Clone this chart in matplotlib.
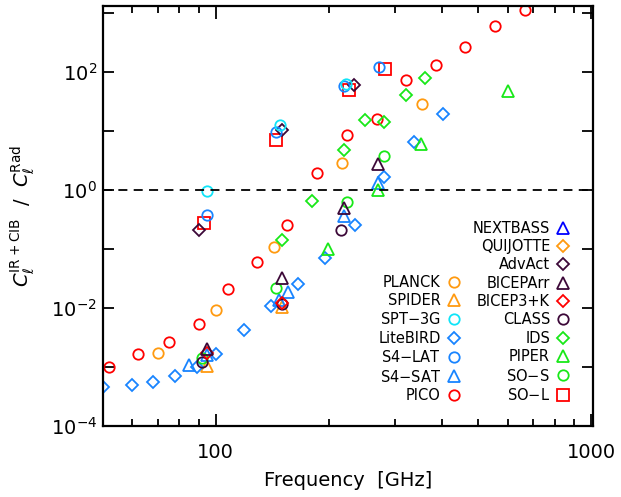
import numpy as np
import matplotlib.pyplot as plt
from matplotlib.ticker import FixedLocator, FixedFormatter, NullFormatter

plt.rcParams['font.family'] = ['DejaVu Sans']
plt.rcParams['mathtext.fontset'] = 'dejavusans'

# frequencies [GHz] and ratio C_l^(IR+CIB) / C_l^(Rad)
pico_f = [52, 62, 75, 90, 108, 129, 155, 186, 223, 268, 321, 385, 462, 555, 666]
pico_r = [1.0e-3, 1.65e-3, 2.6e-3, 5.3e-3, 0.021, 0.06, 0.25, 1.9, 8.5, 15.9, 73, 130, 262, 600, 1100]

planck_f = [70, 100, 143, 217, 353]
planck_r = [1.7e-3, 9.1e-3, 0.107, 2.8, 28]

spider_f = [95, 150]
spider_r = [1.05e-3, 0.0104]

spt_f = [95, 148, 222]
spt_r = [0.97, 12.7, 62]

litebird_f = [50, 60, 68, 78, 89, 100, 119, 140, 166, 195, 235, 280, 337, 402]
litebird_r = [4.5e-4, 4.9e-4, 5.6e-4, 7.1e-4, 9.8e-4, 1.65e-3, 4.2e-3, 0.0106,
              0.025, 0.071, 0.254, 1.65, 6.4, 19.3]

s4lat_f = [95, 145, 219, 272]
s4lat_r = [0.37, 9.4, 57, 120]

s4sat_f = [85, 95, 147, 156, 220, 270]
s4sat_r = [1.09e-3, 1.62e-3, 0.0138, 0.0187, 0.36, 1.33]

nextbass_f = []
nextbass_r = []

quijote_f = []
quijote_r = []

advact_f = [90, 150, 233]
advact_r = [0.206, 10.3, 60]

biceparr_f = [95, 150, 220, 270]
biceparr_r = [2.05e-3, 0.0323, 0.5, 2.74]

bicep3k_f = [95, 150]
bicep3k_r = [1.7e-3, 0.0121]

class_f = [92, 150, 216]
class_r = [1.2e-3, 0.0118, 0.206]

ids_f = [150, 180, 220, 249, 280, 320, 360]
ids_r = [0.143, 0.65, 4.66, 15.5, 13.9, 40, 79]

piper_f = [199, 270, 352, 600]
piper_r = [0.098, 1.0, 6.0, 47]

sos_f = [92, 145, 224, 281]
sos_r = [1.4e-3, 0.0218, 0.61, 3.79]

sol_f = [93, 145, 226, 282]
sol_r = [0.278, 7.0, 48.3, 110]

red = '#ff0000'
orange = '#ff9a10'
cyan = '#10e4f8'
blue = '#1884ff'
green = '#18e818'
purple = '#3c0838'

fig = plt.figure(figsize=(6.21, 4.97), dpi=100)
ax = fig.add_axes([0.1654, 0.1429, 0.7895, 0.8451])

mew = 1.3
def draw(f, r, marker, color, label, ms):
    return ax.plot(f, r, linestyle='none', marker=marker, ms=ms, mfc='none',
                   mec=color, mew=mew, label=label)[0]

# left legend column
h_planck = draw(planck_f, planck_r, 'o', orange, 'PLANCK', 7.5)
h_spider = draw(spider_f, spider_r, '^', orange, 'SPIDER', 8)
h_pico = draw(pico_f, pico_r, 'o', red, 'PICO', 7.5)
h_lite = draw(litebird_f, litebird_r, 'D', blue, 'LiteBIRD', 5.8)
h_s4s = draw(s4sat_f, s4sat_r, '^', blue, 'S4$-$SAT', 8)
# right legend column
h_next = draw(nextbass_f, nextbass_r, '^', '#0000ff', 'NEXTBASS', 8)
h_quij = draw(quijote_f, quijote_r, 'D', orange, 'QUIJOTTE', 5.8)
h_ids = draw(ids_f, ids_r, 'D', green, 'IDS', 5.8)
h_piper = draw(piper_f, piper_r, '^', green, 'PIPER', 8)
h_sos = draw(sos_f, sos_r, 'o', green, 'SO$-$S', 7.5)
h_class = draw(class_f, class_r, 'o', purple, 'CLASS', 7.5)
h_b3k = draw(bicep3k_f, bicep3k_r, 'D', red, 'BICEP3+K', 5.8)
h_barr = draw(biceparr_f, biceparr_r, '^', purple, 'BICEPArr', 8)
h_sol = draw(sol_f, sol_r, 's', red, 'SO$-$L', 8.3)
h_adv = draw(advact_f, advact_r, 'D', purple, 'AdvAct', 5.8)
h_s4l = draw(s4lat_f, s4lat_r, 'o', blue, 'S4$-$LAT', 7.5)
h_spt = draw(spt_f, spt_r, 'o', cyan, 'SPT$-$3G', 7.5)

ax.axhline(1.0, color='black', lw=1.3, ls=(0, (5, 3.5)))

ax.set_xscale('log')
ax.set_yscale('log')
ax.set_xlim(50, 1010)
ax.set_ylim(1e-4, 1.3e3)

ax.xaxis.set_major_locator(FixedLocator([100, 1000]))
ax.xaxis.set_major_formatter(FixedFormatter(['100', '1000']))
ax.xaxis.set_minor_locator(FixedLocator([50, 60, 70, 80, 90, 200, 300, 400, 500, 600, 700, 800, 900]))
ax.xaxis.set_minor_formatter(NullFormatter())

ydec = [1e-4, 1e-3, 1e-2, 1e-1, 1, 10, 100, 1000]
ylab = [r'$10^{-4}$', '', r'$10^{-2}$', '', r'$10^{0}$', '', r'$10^{2}$', '']
ax.yaxis.set_major_locator(FixedLocator(ydec))
ax.yaxis.set_major_formatter(FixedFormatter(ylab))
ax.yaxis.set_minor_locator(FixedLocator([]))

ax.tick_params(which='both', direction='in', top=True, right=True, width=1.3, labelsize=14)
ax.tick_params(axis='x', which='major', length=9, pad=12)
ax.tick_params(axis='x', which='minor', length=5)
ax.tick_params(axis='y', which='major', length=8, pad=4)
for s in ax.spines.values():
    s.set_linewidth(1.6)

ax.set_xlabel('Frequency  [GHz]', fontsize=14, labelpad=7)
ax.set_ylabel(r'$C_\ell^{\rm IR+CIB}$  /  $C_\ell^{\rm Rad}$', fontsize=14, labelpad=10)

leg_kw = dict(frameon=False, markerfirst=False, fontsize=10.5, handlelength=1.0,
              handletextpad=0.4, labelspacing=0.23, borderpad=0, borderaxespad=0,
              loc='lower right')
left_h = [h_planck, h_spider, h_spt, h_lite, h_s4l, h_s4s, h_pico]
right_h = [h_next, h_quij, h_adv, h_barr, h_b3k, h_class, h_ids, h_piper, h_sos, h_sol]
leg1 = ax.legend(handles=left_h, bbox_to_anchor=(0.731, 0.055), **leg_kw)
ax.add_artist(leg1)
ax.legend(handles=right_h, bbox_to_anchor=(0.954, 0.055), **leg_kw)

fig.savefig('out.png', dpi=100)
